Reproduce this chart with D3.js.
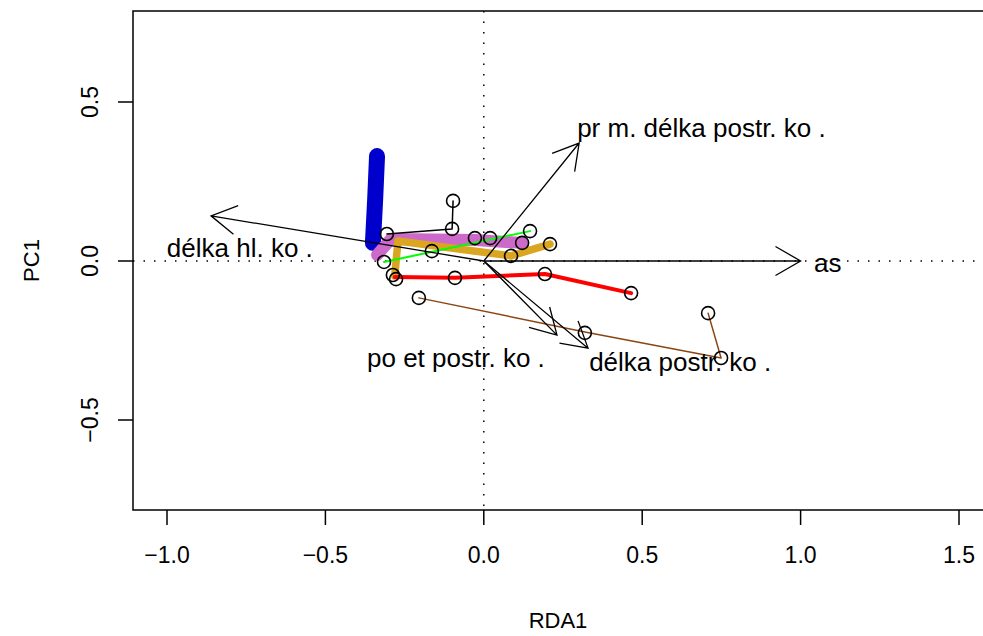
<!DOCTYPE html>
<html>
<head>
<meta charset="utf-8">
<script src="https://cdn.jsdelivr.net/npm/d3@7"></script>
<style>
    body { margin: 0; background: #fff; }
    text { font-family: "Liberation Sans", Arial, sans-serif; fill: #000; }
</style>
</head>
<body>
<script>
// site scores (RDA1, PC1)
var siteX = [-0.097, -0.100, -0.306, -0.315, -0.287, -0.277, -0.164, -0.028, 0.020, 0.146,
             0.121, 0.209, 0.086, -0.091, 0.193, 0.465, -0.205, 0.319, 0.708, 0.749];
var siteY = [0.189, 0.101, 0.085, -0.003, -0.044, -0.057, 0.031, 0.072, 0.072, 0.094,
             0.057, 0.053, 0.016, -0.053, -0.041, -0.101, -0.116, -0.226, -0.164, -0.305];

// trajectories per group
var lineNames = ["blue", "purple", "gold", "red", "green", "black", "brown"];
var lineColors = ["#0000cd", "#cd69c9", "#daa520", "#ff0000", "#00ff00", "#000000", "#8b4513"];
var lineWidths = [16, 12, 7.5, 4, 2, 1.5, 1.5];
var lineX = [
    [-0.337, -0.343, -0.350],
    [-0.337, -0.293, -0.028, 0.121],
    [-0.281, -0.271, 0.086, 0.209],
    [-0.281, -0.091, 0.193, 0.465],
    [-0.315, 0.146],
    [-0.097, -0.100, -0.306],
    [-0.205, 0.319, 0.749, 0.708]
];
var lineY = [
    [0.330, 0.192, 0.057],
    [0.019, 0.069, 0.066, 0.057],
    [-0.047, 0.063, 0.016, 0.053],
    [-0.050, -0.053, -0.041, -0.101],
    [-0.003, 0.094],
    [0.189, 0.101, 0.085],
    [-0.116, -0.223, -0.305, -0.164]
];

// environmental arrows
var arrowNames = ["as", "pr m. délka postr. ko .", "délka hl. ko .", "po et postr. ko .", "délka postr. ko ."];
var arrowX = [1.0, 0.301, -0.861, 0.231, 0.329];
var arrowY = [0.0, 0.371, 0.142, -0.233, -0.274];
var labelX = [1.086, 0.687, -0.770, -0.088, 0.620];
var labelY = [-0.006, 0.418, 0.041, -0.305, -0.318];

var xTicks = [-1.0, -0.5, 0.0, 0.5, 1.0, 1.5];
var yTicks = [-0.5, 0.0, 0.5];

window.onload = (event) => {
    setChart();
};

function setChart() {
    var width = 983,
        height = 636,
        left = 133, right = 983, top = 11, bottom = 510;

    var svg = d3.select("body")
        .append("svg")
        .attr("width", width)
        .attr("height", height);

    var x = d3.scaleLinear().domain([-1, 1.5]).range([167, 959]);
    var y = d3.scaleLinear().domain([-0.5, 0.5]).range([420, 102]);
    var fmt = d3.format(".1f");

    svg.append("clipPath")
        .attr("id", "clip")
        .append("rect")
        .attr("x", left).attr("y", top)
        .attr("width", right - left).attr("height", bottom - top);

    var plot = svg.append("g").attr("clip-path", "url(#clip)");

    // zero lines
    plot.append("line")
        .attr("x1", left).attr("x2", right)
        .attr("y1", y(0)).attr("y2", y(0))
        .attr("stroke", "#000").attr("stroke-width", 1.5)
        .attr("stroke-dasharray", "1.5,9");
    plot.append("line")
        .attr("x1", x(0)).attr("x2", x(0))
        .attr("y1", top).attr("y2", bottom)
        .attr("stroke", "#000").attr("stroke-width", 1.5)
        .attr("stroke-dasharray", "1.5,9");

    var line = d3.line()
        .x(function(d) { return x(d[0]); })
        .y(function(d) { return y(d[1]); });

    plot.selectAll(".traj")
        .data(lineNames)
        .enter()
        .append("path")
        .attr("class", "traj")
        .attr("d", function(d, i) {
            return line(lineX[i].map(function(v, j) { return [v, lineY[i][j]]; }));
        })
        .attr("fill", "none")
        .attr("stroke", function(d, i) { return lineColors[i]; })
        .attr("stroke-width", function(d, i) { return lineWidths[i]; })
        .attr("stroke-linecap", "round")
        .attr("stroke-linejoin", "round");

    plot.selectAll(".site")
        .data(siteX)
        .enter()
        .append("circle")
        .attr("class", "site")
        .attr("cx", function(d) { return x(d); })
        .attr("cy", function(d, i) { return y(siteY[i]); })
        .attr("r", 6.5)
        .attr("fill", "none")
        .attr("stroke", "#000")
        .attr("stroke-width", 1.6);

    // arrows
    var headLen = 29, headAng = Math.PI / 6;
    arrowNames.forEach(function(name, i) {
        var x0 = x(0), y0 = y(0), x1 = x(arrowX[i]), y1 = y(arrowY[i]);
        var a = Math.atan2(y1 - y0, x1 - x0);
        var d = "M" + x0 + "," + y0 + "L" + x1 + "," + y1 +
            "M" + (x1 - headLen * Math.cos(a - headAng)) + "," + (y1 - headLen * Math.sin(a - headAng)) +
            "L" + x1 + "," + y1 +
            "L" + (x1 - headLen * Math.cos(a + headAng)) + "," + (y1 - headLen * Math.sin(a + headAng));
        plot.append("path")
            .attr("d", d)
            .attr("fill", "none")
            .attr("stroke", "#000")
            .attr("stroke-width", 1.3);
    });

    plot.selectAll(".lab")
        .data(arrowNames)
        .enter()
        .append("text")
        .attr("class", "lab")
        .attr("x", function(d, i) { return x(labelX[i]); })
        .attr("y", function(d, i) { return y(labelY[i]); })
        .attr("dy", "0.35em")
        .attr("text-anchor", "middle")
        .style("font-size", "26px")
        .text(function(d) { return d; });

    // box
    svg.append("rect")
        .attr("x", left).attr("y", top)
        .attr("width", right - left + 2).attr("height", bottom - top)
        .attr("fill", "none")
        .attr("stroke", "#000")
        .attr("stroke-width", 1.5);

    // axes
    var xAxis = svg.append("g");
    xAxis.selectAll("line")
        .data(xTicks)
        .enter()
        .append("line")
        .attr("x1", function(d) { return x(d); })
        .attr("x2", function(d) { return x(d); })
        .attr("y1", bottom).attr("y2", bottom + 15)
        .attr("stroke", "#000").attr("stroke-width", 1.5);
    xAxis.selectAll("text")
        .data(xTicks)
        .enter()
        .append("text")
        .attr("x", function(d) { return x(d); })
        .attr("y", 555)
        .attr("dy", "0.35em")
        .attr("text-anchor", "middle")
        .style("font-size", "23px")
        .text(function(d) { return fmt(d); });

    var yAxis = svg.append("g");
    yAxis.selectAll("line")
        .data(yTicks)
        .enter()
        .append("line")
        .attr("x1", left).attr("x2", left - 15)
        .attr("y1", function(d) { return y(d); })
        .attr("y2", function(d) { return y(d); })
        .attr("stroke", "#000").attr("stroke-width", 1.5);
    yAxis.selectAll("text")
        .data(yTicks)
        .enter()
        .append("text")
        .attr("transform", function(d) { return "translate(90," + y(d) + ") rotate(-90)"; })
        .attr("dy", "0.35em")
        .attr("text-anchor", "middle")
        .style("font-size", "23px")
        .text(function(d) { return fmt(d); });

    svg.append("text")
        .attr("x", (left + right) / 2)
        .attr("y", 620)
        .attr("dy", "0.35em")
        .attr("text-anchor", "middle")
        .style("font-size", "22px")
        .text("RDA1");
    svg.append("text")
        .attr("transform", "translate(31," + (top + bottom) / 2 + ") rotate(-90)")
        .attr("dy", "0.35em")
        .attr("text-anchor", "middle")
        .style("font-size", "22px")
        .text("PC1");
}
</script>
</body>
</html>
